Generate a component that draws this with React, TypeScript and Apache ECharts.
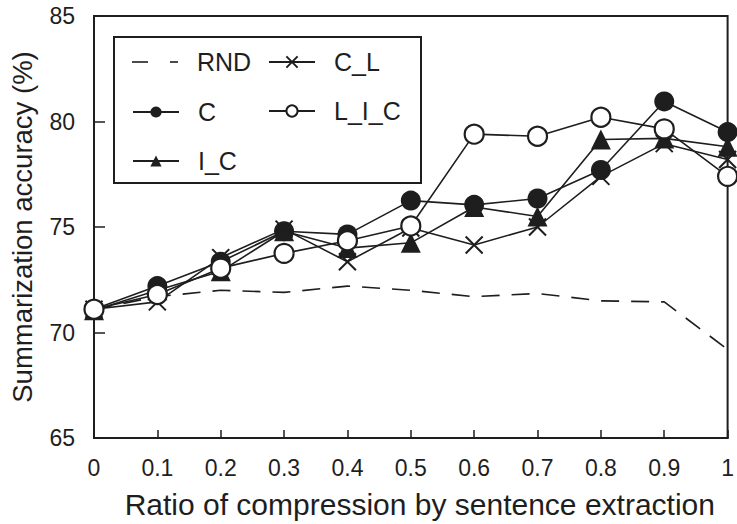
import React, { useEffect, useRef } from "react";
import * as echarts from "echarts";

const ratios = [0, 0.1, 0.2, 0.3, 0.4, 0.5, 0.6, 0.7, 0.8, 0.9, 1];
const rndValues = [71.1, 71.7, 72.0, 71.9, 72.2, 72.0, 71.7, 71.85, 71.5, 71.45, 69.2];
const cValues = [71.1, 72.2, 73.35, 74.8, 74.65, 76.25, 76.05, 76.35, 77.7, 80.95, 79.5];
const licValues = [71.1, 71.8, 73.05, 73.75, 74.35, 75.05, 79.4, 79.3, 80.2, 79.65, 77.4];
const icValues = [71.05, 72.0, 72.9, 74.8, 74.0, 74.25, 75.95, 75.5, 79.15, 79.2, 78.8];
const clValues = [71.1, 71.45, 73.55, 74.9, 73.35, 74.95, 74.15, 75.0, 77.4, 78.95, 78.2];
const yTicks = { min: 65, max: 85, interval: 5 };

const FONT = "'Liberation Sans', Arial, Helvetica, sans-serif";
const INK = "#1e1e1e";
const CROSS = "path://M0,0L10,10M10,0L0,10";

function pairs(vals: number[]) {
  return ratios.map((r, i) => [r, vals[i]]);
}

export default function App() {
  const ref = useRef<HTMLDivElement>(null);
  useEffect(() => {
    if (!ref.current) return;
    const chart = echarts.init(ref.current, undefined, { renderer: "svg" });
    const legendText = {
      fontSize: 25,
      color: INK,
      fontFamily: FONT,
      lineHeight: 26,
      padding: [0, 0, 0, 14],
    };
    const legendCommon = {
      orient: "vertical",
      padding: 0,
      itemWidth: 46,
      itemHeight: 14,
      itemGap: 23,
      textStyle: legendText,
      selectedMode: false,
    };
    chart.setOption({
      animation: false,
      backgroundColor: "#fff",
      textStyle: { fontFamily: FONT },
      grid: {
        left: 94,
        right: 6,
        top: 16,
        bottom: 84,
        show: true,
        borderColor: INK,
        borderWidth: 2,
      },
      xAxis: {
        type: "value",
        min: 0,
        max: 1,
        interval: 0.1,
        name: "Ratio of compression by sentence extraction",
        nameLocation: "middle",
        nameGap: 51,
        nameTextStyle: {
          fontSize: 30,
          color: INK,
          fontFamily: FONT,
          padding: [0, 0, 0, 18],
        },
        axisLine: { lineStyle: { color: INK, width: 2 } },
        axisTick: { inside: true, length: 8, lineStyle: { color: INK, width: 1.5 } },
        axisLabel: { fontSize: 23, color: INK, margin: 18, fontFamily: FONT },
        splitLine: { show: false },
      },
      yAxis: {
        type: "value",
        min: yTicks.min,
        max: yTicks.max,
        interval: yTicks.interval,
        name: "Summarization accuracy (%)",
        nameLocation: "middle",
        nameGap: 58,
        nameTextStyle: { fontSize: 27.5, color: INK, fontFamily: FONT },
        axisLine: { lineStyle: { color: INK, width: 2 } },
        axisTick: { inside: true, length: 11, lineStyle: { color: INK, width: 1.5 } },
        axisLabel: { fontSize: 23, color: INK, margin: 19, fontFamily: FONT },
        splitLine: { show: false },
      },
      legend: [
        { ...legendCommon, data: ["C", "I_C"], left: 132, top: 99 },
        { ...legendCommon, data: ["C_L", "L_I_C"], left: 268, top: 49 },
      ],
      graphic: [
        {
          type: "rect",
          shape: { x: 114, y: 37, width: 307, height: 146 },
          style: { fill: "none", stroke: INK, lineWidth: 2 },
          silent: true,
        },
        {
          type: "line",
          shape: { x1: 132, y1: 62, x2: 148, y2: 62 },
          style: { stroke: INK, lineWidth: 1.6 },
          silent: true,
        },
        {
          type: "line",
          shape: { x1: 170, y1: 62, x2: 178, y2: 62 },
          style: { stroke: INK, lineWidth: 1.6 },
          silent: true,
        },
        {
          type: "text",
          x: 197,
          y: 62,
          style: {
            text: "RND",
            fontSize: 25,
            fontFamily: FONT,
            fill: INK,
            verticalAlign: "middle",
            align: "left",
          },
          silent: true,
        },
      ],
      series: [
        {
          name: "RND",
          type: "line",
          data: pairs(rndValues),
          showSymbol: false,
          symbol: "none",
          lineStyle: { color: INK, width: 1.6, type: [18, 12] },
          itemStyle: { color: INK },
          z: 2,
        },
        {
          name: "C",
          type: "line",
          data: pairs(cValues),
          symbol: "circle",
          symbolSize: 20,
          lineStyle: { color: INK, width: 1.6 },
          itemStyle: { color: INK, borderColor: INK, borderWidth: 0 },
          z: 3,
        },
        {
          name: "I_C",
          type: "line",
          data: pairs(icValues),
          symbol: "triangle",
          symbolSize: 20,
          lineStyle: { color: INK, width: 1.6 },
          itemStyle: { color: INK, borderColor: INK, borderWidth: 0 },
          z: 4,
        },
        {
          name: "C_L",
          type: "line",
          data: pairs(clValues),
          symbol: CROSS,
          symbolSize: 17,
          lineStyle: { color: INK, width: 1.6 },
          itemStyle: { color: "none", borderColor: INK, borderWidth: 2 },
          z: 5,
        },
        {
          name: "L_I_C",
          type: "line",
          data: pairs(licValues),
          symbol: "circle",
          symbolSize: 19,
          lineStyle: { color: INK, width: 1.6 },
          itemStyle: { color: "#fff", borderColor: INK, borderWidth: 2.2 },
          z: 6,
        },
      ],
    });
    return () => chart.dispose();
  }, []);
  return (
    <div
      ref={ref}
      style={{ position: "fixed", left: 0, top: 0, width: 737, height: 524 }}
    />
  );
}
